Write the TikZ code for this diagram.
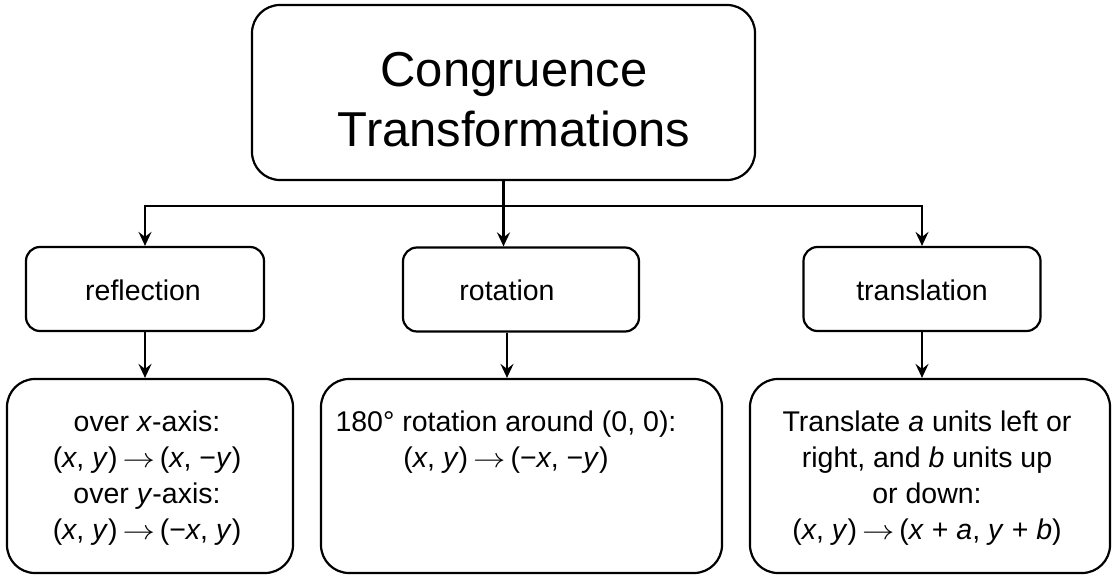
\documentclass[tikz,border=0pt]{standalone}
\usepackage{fontspec}
\usepackage{graphicx}
\setmainfont{Liberation Sans}
\usetikzlibrary{arrows.meta}
\newcommand{\maparr}{\hspace{5pt}\scalebox{1.3}[1.1]{$\rightarrow$}\hspace{5pt}}
\begin{document}
\begin{tikzpicture}[x=1pt,y=-1pt,
  box/.style={draw, line width=2.2pt, rounded corners=#1, inner sep=0pt},
  lbl/.style={font=\fontsize{28.5}{36}\selectfont, align=center, inner sep=0pt},
  biglbl/.style={font=\fontsize{49}{60}\selectfont, align=center, inner sep=0pt},
  conn/.style={line width=2.2pt},
  arr/.style={line width=2.2pt, -{Stealth[length=14pt,width=13pt,inset=5pt]}}]
\useasboundingbox (0,0) rectangle (1114,575);
% top
\node[box=28pt, minimum width=503pt, minimum height=175pt] (top) at (503.5,92.5) {};
\node[biglbl] (toplbl) at (514,100) {Congruence\\Transformations};
% middle row
\node[box=14pt, minimum width=238pt, minimum height=84pt] (refl) at (145,289) {};
\node[lbl, anchor=base] (refllbl) at (143,300) {reflection};
\node[box=14pt, minimum width=236pt, minimum height=84pt] (rot) at (521,289.5) {};
\node[lbl, anchor=base] (rotlbl) at (507,300) {rotation};
\node[box=14pt, minimum width=237pt, minimum height=84pt] (trans) at (922,289) {};
\node[lbl, anchor=base] (translbl) at (922,300) {translation};
% bottom row
\node[box=28pt, minimum width=286pt, minimum height=194pt] (bl) at (150,476) {};
\node[lbl] (bllbl) at (147,478) {over \textit{x}-axis:\\(\textit{x}, \textit{y})\maparr(\textit{x}, −\textit{y})\\over \textit{y}-axis:\\(\textit{x}, \textit{y})\maparr(−\textit{x}, \textit{y})};
\node[box=28pt, minimum width=401pt, minimum height=194pt] (bm) at (521.5,476) {};
\node[lbl] (bmlbl) at (506,442.5) {180° rotation around (0, 0):\\(\textit{x}, \textit{y})\maparr(−\textit{x}, −\textit{y})};
\node[box=28pt, minimum width=360pt, minimum height=194pt] (br) at (930,476) {};
\node[lbl] (brlbl) at (927,478) {Translate \textit{a} units left or\\right, and \textit{b} units up\\or down:\\(\textit{x}, \textit{y})\maparr(\textit{x} + \textit{a}, \textit{y} + \textit{b})};
% connectors
\coordinate (hub) at (503.5,206);
\draw[conn] (top.south) -- (hub);
\draw[arr] (hub) -- (hub |- rot.north);
\draw[arr] (hub) -| (refl.north);
\draw[arr] (hub) -| (trans.north);
\draw[arr] (refl.south) -- (refl.south |- bl.north);
\draw[arr] (rot.south -| rotlbl) -- (rotlbl |- bm.north);
\draw[arr] (trans.south) -- (trans.south |- br.north);
\end{tikzpicture}
\end{document}
